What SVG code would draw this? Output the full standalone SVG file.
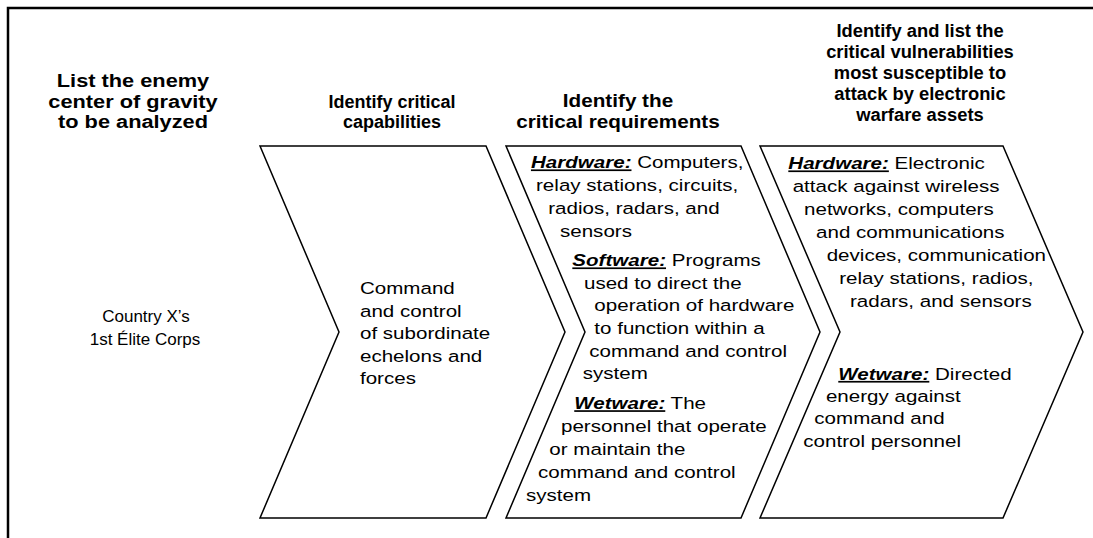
<svg xmlns="http://www.w3.org/2000/svg" width="1093" height="538" viewBox="0 0 1093 538">
<style>
.frame{fill:none;stroke:#000;stroke-width:2.5}
.chev{fill:#fff;stroke:#000;stroke-width:1.5;stroke-linejoin:miter}
text{font-family:"Liberation Sans",Arial,sans-serif;fill:#000}
.hd{font-size:18px;font-weight:bold;text-anchor:middle}
.bd{font-size:17px}
.ctr{text-anchor:middle}
.k{font-weight:bold;font-style:italic;text-decoration:underline}
</style>
<rect width="1093" height="538" fill="#fff"/>
<path class="frame" d="M8,538 V8 H1093"/>
<g id="chevron-capabilities"><path class="chev" d="M260,146 L486,146 L565,332 L486,518 L260,518 L339,332 Z"/></g>
<g id="chevron-requirements"><path class="chev" d="M506,146 L741,146 L820,332 L741,518 L506,518 L585,332 Z"/></g>
<g id="chevron-vulnerabilities"><path class="chev" d="M760,146 L1003,146 L1083,332 L1003,518 L760,518 L840,332 Z"/></g>
<g id="header-cog"><text class="hd" transform="matrix(1.21 0 0 1 133 0)"><tspan x="0" y="87.5">List the enemy</tspan><tspan x="0" y="108">center of gravity</tspan><tspan x="0" y="128.5">to be analyzed</tspan></text></g>
<g id="header-capabilities"><text class="hd" transform="matrix(1.0 0 0 1 392 0)"><tspan x="0" y="107.5">Identify critical</tspan><tspan x="0" y="128">capabilities</tspan></text></g>
<g id="header-requirements"><text class="hd" transform="matrix(1.15 0 0 1 618 0)"><tspan x="0" y="107">Identify the</tspan><tspan x="0" y="128">critical requirements</tspan></text></g>
<g id="header-vulnerabilities"><text class="hd" transform="matrix(1.02 0 0 1 920 0)"><tspan x="0" y="37">Identify and list the</tspan><tspan x="0" y="58">critical vulnerabilities</tspan><tspan x="0" y="79">most susceptible to</tspan><tspan x="0" y="100">attack by electronic</tspan><tspan x="0" y="121">warfare assets</tspan></text></g>
<g id="node-cog"><text class="bd ctr"><tspan x="146" y="322">Country X’s</tspan><tspan x="145" y="344.5">1st Élite Corps</tspan></text></g>
<g transform="scale(1.21 1)">
<g id="node-capabilities"><text class="bd"><tspan x="297.5" y="294">Command</tspan><tspan x="297.5" y="316.6">and control</tspan><tspan x="297.5" y="339.2">of subordinate</tspan><tspan x="297.5" y="361.8">echelons and</tspan><tspan x="297.5" y="384.4">forces</tspan></text></g>
<g id="node-requirements"><text class="bd">
<tspan x="438.8" y="168.5"><tspan class="k">Hardware:</tspan> Computers,</tspan>
<tspan x="443" y="191.5">relay stations, circuits,</tspan>
<tspan x="453.1" y="214">radios, radars, and</tspan>
<tspan x="462.8" y="236.7">sensors</tspan>
<tspan x="473" y="266.5"><tspan class="k">Software:</tspan> Programs</tspan>
<tspan x="482.6" y="288.8">used to direct the</tspan>
<tspan x="491.2" y="311.5">operation of hardware</tspan>
<tspan x="491.2" y="334">to function within a</tspan>
<tspan x="487" y="356.7">command and control</tspan>
<tspan x="481.6" y="379.3">system</tspan>
<tspan x="474.6" y="409.3"><tspan class="k">Wetware:</tspan> The</tspan>
<tspan x="463.6" y="432.5">personnel that operate</tspan>
<tspan x="454" y="455">or maintain the</tspan>
<tspan x="444.6" y="478.3">command and control</tspan>
<tspan x="434.7" y="501.5">system</tspan>
</text></g>
<g id="node-vulnerabilities"><text class="bd">
<tspan x="651.5" y="169.5"><tspan class="k">Hardware:</tspan> Electronic</tspan>
<tspan x="655.1" y="192.5">attack against wireless</tspan>
<tspan x="664.5" y="215.5">networks, computers</tspan>
<tspan x="674.4" y="238.5">and communications</tspan>
<tspan x="683.2" y="261.5">devices, communication</tspan>
<tspan x="693.6" y="284.5">relay stations, radios,</tspan>
<tspan x="702.5" y="307.5">radars, and sensors</tspan>
<tspan x="692.8" y="380"><tspan class="k">Wetware:</tspan> Directed</tspan>
<tspan x="682.6" y="402">energy against</tspan>
<tspan x="673" y="424.5">command and</tspan>
<tspan x="663.9" y="447">control personnel</tspan>
</text></g>
</g>
</svg>
